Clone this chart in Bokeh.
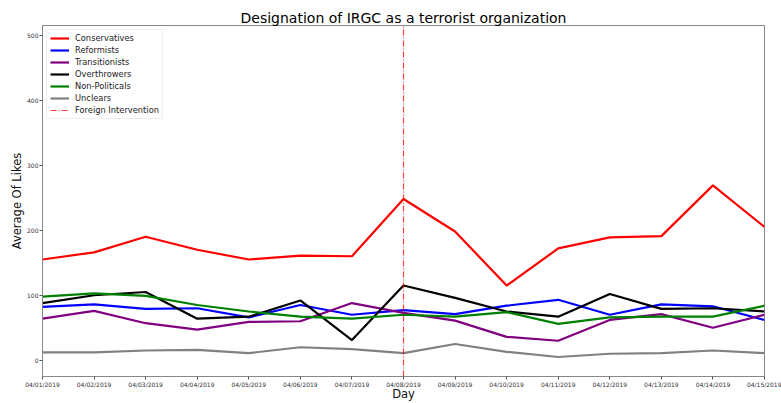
from bokeh.plotting import figure
from bokeh.models import FixedTicker, Range1d, Legend, LegendItem
from bokeh.embed import file_html
from bokeh.resources import INLINE

days = ["04/01/2019", "04/02/2019", "04/03/2019", "04/04/2019", "04/05/2019",
        "04/06/2019", "04/07/2019", "04/08/2019", "04/09/2019", "04/10/2019",
        "04/11/2019", "04/12/2019", "04/13/2019", "04/14/2019", "04/15/2019"]

conservatives = [156, 167, 191, 171, 156, 162, 161, 249, 199, 116, 173, 190, 192, 270, 206]
reformists = [83, 87, 80, 81, 67, 86, 71, 78, 72, 85, 94, 71, 87, 84, 63]
transitionists = [65, 77, 58, 48, 60, 61, 89, 74, 62, 37, 31, 63, 72, 51, 71]
overthrowers = [89, 101, 106, 65, 68, 93, 32, 116, 97, 76, 68, 103, 80, 81, 76]
non_politicals = [99, 104, 100, 86, 76, 68, 65, 71, 68, 75, 57, 67, 68, 68, 85]
unclears = [13, 13, 16, 17, 12, 21, 18, 12, 26, 14, 6, 11, 12, 16, 12]

intervention_day = "04/08/2019"
y_ticks = [0, 100, 200, 300, 400, 500]
y_limits = [-24, 516]

series = [
    ("Conservatives", conservatives, "red"),
    ("Reformists", reformists, "blue"),
    ("Transitionists", transitionists, "purple"),
    ("Overthrowers", overthrowers, "black"),
    ("Non-Politicals", non_politicals, "green"),
    ("Unclears", unclears, "gray"),
]

FONT = "DejaVu Sans"
xs = list(range(len(days)))

p = figure(width=781, height=403, output_backend="svg", toolbar_location=None,
           x_range=Range1d(0, len(days) - 1), y_range=Range1d(*y_limits),
           min_border_left=42, min_border_right=17, min_border_top=25, min_border_bottom=27,
           border_fill_color="white")

p.title.text = "Designation of IRGC as a terrorist organization"
p.title.text_font = FONT
p.title.text_font_size = "14px"
p.title.text_font_style = "normal"
p.title.text_color = "#000000"
p.title.align = "center"
p.title.standoff = 0
p.title.offset = 0

items = []
for name, vals, color in series:
    r = p.line(xs, vals, line_color=color, line_width=2.2)
    items.append(LegendItem(label=name, renderers=[r]))

iv = days.index(intervention_day)
vr = p.line([iv, iv], y_limits, line_color="red", line_alpha=0.75,
            line_width=1.2, line_dash="6 2 1 2")
items.append(LegendItem(label="Foreign Intervention", renderers=[vr]))

legend = Legend(items=items, location="top_left")
legend.margin = 4
legend.padding = 3
legend.spacing = 2
legend.label_height = 10
legend.glyph_height = 10
legend.glyph_width = 19
legend.label_standoff = 6
legend.label_text_font = FONT
legend.label_text_font_size = "8.3px"
legend.label_text_color = "#222222"
legend.border_line_color = "#dddddd"
legend.background_fill_alpha = 0.8
p.add_layout(legend)

p.xgrid.visible = False
p.ygrid.visible = False
p.outline_line_color = "#888888"

p.xaxis.ticker = FixedTicker(ticks=xs)
p.xaxis.major_label_overrides = {i: d for i, d in enumerate(days)}
p.yaxis.ticker = FixedTicker(ticks=y_ticks)

for ax in (p.xaxis, p.yaxis):
    ax.axis_line_color = "#888888"
    ax.major_tick_line_color = "#555555"
    ax.major_tick_out = 3
    ax.major_tick_in = 0
    ax.minor_tick_out = 0
    ax.minor_tick_in = 0
    ax.major_label_text_font = FONT
    ax.major_label_text_font_size = "6px"
    ax.major_label_text_color = "#333333"
    ax.major_label_standoff = 1
    ax.axis_label_text_font = FONT
    ax.axis_label_text_font_size = "11.5px"
    ax.axis_label_text_font_style = "normal"
    ax.axis_label_text_color = "#111111"

p.xaxis.axis_label = "Day"
p.yaxis.axis_label = "Average Of Likes"
p.xaxis.axis_label_standoff = -4
p.yaxis.major_label_standoff = 1
p.yaxis.axis_label_standoff = 0

open("out.html", "w").write(file_html(p, INLINE))
